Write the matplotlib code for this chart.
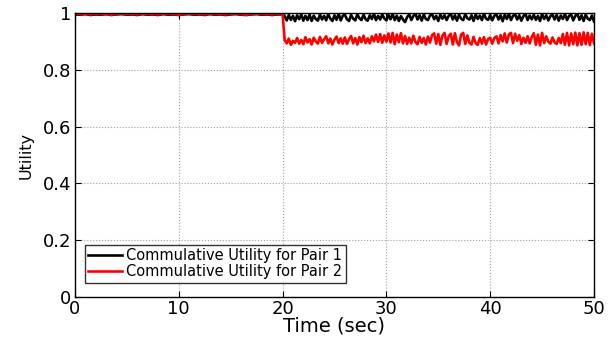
import numpy as np
import matplotlib
matplotlib.use("Agg")
import matplotlib.pyplot as plt

plt.rcParams['font.family'] = ['DejaVu Sans']

t_pre = np.arange(0, 20.01, 0.5)
t_post = np.round(np.arange(20.2, 50.01, 0.2), 2)

black_pre = [0.995, 0.994, 0.996, 0.993, 0.995, 0.994, 0.996, 0.993, 0.995, 0.996,
             0.994, 0.995, 0.993, 0.996, 0.994, 0.995, 0.993, 0.996, 0.994, 0.995,
             0.993, 0.995, 0.996, 0.994, 0.995, 0.993, 0.996, 0.994, 0.995, 0.993,
             0.995, 0.996, 0.994, 0.993, 0.995, 0.996, 0.994, 0.995, 0.993, 0.995, 0.995]
red_pre = [0.998, 0.996, 0.997, 0.995, 0.998, 0.996, 0.997, 0.994, 0.997, 0.998,
           0.996, 0.997, 0.995, 0.998, 0.996, 0.997, 0.995, 0.998, 0.996, 0.997,
           0.994, 0.997, 0.998, 0.996, 0.997, 0.995, 0.998, 0.996, 0.997, 0.995,
           0.997, 0.998, 0.996, 0.994, 0.997, 0.998, 0.996, 0.997, 0.995, 0.997, 0.997]

black_post = [0.990, 0.974, 0.993, 0.976, 0.990, 0.971, 0.992, 0.978, 0.995, 0.973,
              0.990, 0.975, 0.994, 0.972, 0.991, 0.979, 0.973, 0.995, 0.977, 0.990,
              0.974, 0.996, 0.980, 0.972, 0.992, 0.976, 0.997, 0.974, 0.990, 0.994,
              0.978, 0.972, 0.993, 0.980, 0.974, 0.995, 0.982, 0.975, 0.994, 0.978,
              0.973, 0.992, 0.979, 0.997, 0.975, 0.990, 0.977, 0.995, 0.981, 0.974,
              0.993, 0.978, 0.997, 0.975, 0.991, 0.972, 0.989, 0.977, 0.968, 0.986,
              0.995, 0.975, 0.990, 0.997, 0.977, 0.992, 0.973, 0.995, 0.979, 0.975,
              0.991, 0.996, 0.978, 0.990, 0.972, 0.994, 0.980, 0.992, 0.975, 0.990,
              0.997, 0.977, 0.992, 0.973, 0.994, 0.980, 0.975, 0.996, 0.981, 0.977,
              0.992, 0.972, 0.995, 0.979, 0.991, 0.975, 0.997, 0.980, 0.976, 0.993,
              0.974, 0.990, 0.996, 0.977, 0.992, 0.971, 0.994, 0.979, 0.997, 0.975,
              0.990, 0.995, 0.977, 0.992, 0.973, 0.989, 0.997, 0.975, 0.991, 0.978,
              0.994, 0.976, 0.990, 0.972, 0.996, 0.979, 0.992, 0.974, 0.989, 0.995,
              0.977, 0.993, 0.973, 0.991, 0.979, 0.997, 0.975, 0.990, 0.994, 0.974,
              0.990, 0.996, 0.976, 0.992, 0.972, 0.994, 0.980, 0.975, 0.991, 0.970]
red_post = [0.905, 0.893, 0.910, 0.888, 0.902, 0.895, 0.912, 0.892, 0.905, 0.890,
            0.915, 0.896, 0.908, 0.889, 0.913, 0.900, 0.892, 0.916, 0.895, 0.907,
            0.918, 0.893, 0.910, 0.889, 0.906, 0.917, 0.894, 0.911, 0.892, 0.914,
            0.891, 0.908, 0.919, 0.893, 0.912, 0.889, 0.915, 0.897, 0.920, 0.894,
            0.911, 0.893, 0.918, 0.900, 0.924, 0.898, 0.926, 0.895, 0.921, 0.899,
            0.928, 0.896, 0.930, 0.890, 0.924, 0.897, 0.929, 0.893, 0.919, 0.891,
            0.913, 0.893, 0.920, 0.898, 0.890, 0.916, 0.895, 0.912, 0.889, 0.917,
            0.896, 0.922, 0.928, 0.892, 0.926, 0.888, 0.920, 0.930, 0.891, 0.918,
            0.927, 0.889, 0.929, 0.897, 0.886, 0.924, 0.930, 0.891, 0.921, 0.895,
            0.889, 0.916, 0.894, 0.888, 0.912, 0.892, 0.915, 0.889, 0.908, 0.913,
            0.892, 0.912, 0.918, 0.893, 0.922, 0.900, 0.928, 0.896, 0.925, 0.930,
            0.894, 0.927, 0.902, 0.922, 0.891, 0.913, 0.895, 0.918, 0.893, 0.915,
            0.929, 0.888, 0.924, 0.886, 0.930, 0.894, 0.918, 0.899, 0.892, 0.914,
            0.897, 0.891, 0.912, 0.894, 0.926, 0.888, 0.930, 0.886, 0.928, 0.890,
            0.931, 0.886, 0.929, 0.888, 0.932, 0.890, 0.930, 0.887, 0.927, 0.893]

time = np.concatenate([t_pre, t_post])
pair1 = np.concatenate([black_pre, black_post])
pair2 = np.concatenate([red_pre, red_post])

x_ticks = [0, 10, 20, 30, 40, 50]
y_ticks = [0, 0.2, 0.4, 0.6, 0.8, 1]
y_tick_labels = ['0', '0.2', '0.4', '0.6', '0.8', '1']

fig = plt.figure(figsize=(6.13, 3.37), dpi=100)
ax = fig.add_axes([0.1223, 0.119, 0.8467, 0.8424])
ax.plot(time, pair1, color='black', lw=1.9, label='Commulative Utility for Pair 1')
ax.plot(time, pair2, color='red', lw=1.9, label='Commulative Utility for Pair 2')
ax.set_xlim(0, 50)
ax.set_ylim(0, 1)
ax.set_xticks(x_ticks)
ax.set_yticks(y_ticks)
ax.set_yticklabels(y_tick_labels)
ax.tick_params(direction='in', top=True, right=True, labelsize=13, length=4)
ax.tick_params(axis='x', pad=2.5)
ax.tick_params(axis='y', pad=2.5)
ax.grid(True, linestyle=':', color='#a0a0a0', linewidth=0.8)
for s in ax.spines.values():
    s.set_linewidth(1.0)
ax.set_xlabel('Time (sec)', fontsize=14, labelpad=-1)
ax.set_ylabel('Utility', fontsize=11.5, labelpad=7)
leg = ax.legend(loc='lower left', bbox_to_anchor=(0.019, 0.05), fontsize=10.5,
                frameon=True, fancybox=False, edgecolor='black', borderpad=0.25,
                handlelength=2.3, handletextpad=0.3, labelspacing=0.05, borderaxespad=0)
leg.get_frame().set_linewidth(1.0)
fig.savefig('out.png', dpi=100)
